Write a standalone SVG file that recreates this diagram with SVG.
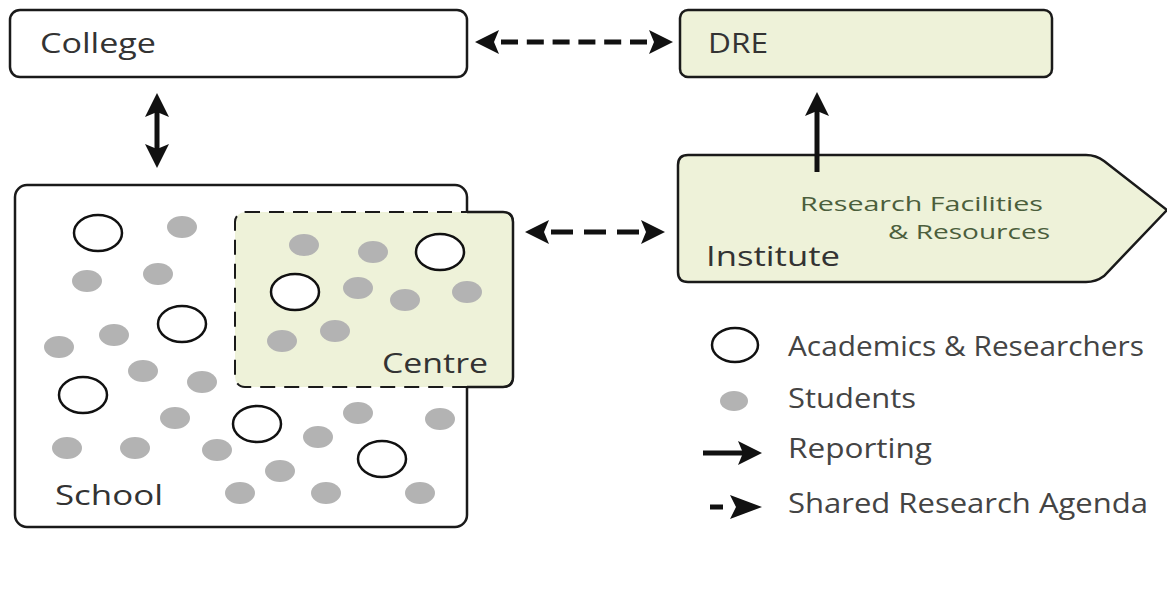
<svg xmlns="http://www.w3.org/2000/svg" width="1167" height="589" viewBox="0 0 1167 589">
<style>
.box{fill:#fff;stroke:#1a1a1a;stroke-width:2.5}
.green{fill:#eef2d9;stroke:#1a1a1a;stroke-width:2.5}
text{font-family:"Open Sans","Liberation Sans",sans-serif}
.lbl{fill:#333;font-size:27px}
.glbl{fill:#4b5e3c;font-size:20px}
.leg{fill:#444;font-size:28px}
.ac{fill:#fff;stroke:#111;stroke-width:2.5}
.st{fill:#b3b3b3}
.solid{stroke:#111;stroke-width:5;fill:none}
.dash{stroke:#111;stroke-width:5;fill:none}
</style>
<defs>
<marker id="ah" markerUnits="userSpaceOnUse" viewBox="-26 -13 28 26" refX="-18" refY="0" markerWidth="28" markerHeight="26" orient="auto-start-reverse">
<path d="M0,0 L-24,-12 L-19,0 L-24,12 Z" fill="#111"/>
</marker>
<marker id="ahd" markerUnits="userSpaceOnUse" viewBox="-26 -13 28 26" refX="-26" refY="0" markerWidth="28" markerHeight="26" orient="auto-start-reverse">
<path d="M0,0 L-24,-12 L-19,0 L-24,12 Z" fill="#111"/>
</marker>
</defs>
<rect width="1167" height="589" fill="#fff"/>
<g id="college"><rect class="box" x="10" y="10" width="457" height="67" rx="10"/><text class="lbl" x="40" y="53" textLength="116" lengthAdjust="spacingAndGlyphs">College</text></g>
<g id="dre"><rect class="green" x="680" y="10" width="372" height="67" rx="8"/><text class="lbl" x="708" y="53" textLength="60" lengthAdjust="spacingAndGlyphs">DRE</text></g>
<g id="institute"><path class="green" d="M688,155 L1086,155 Q1096,155 1104,161 L1167,210 L1104,276 Q1096,282 1086,282 L688,282 Q678,282 678,272 L678,165 Q678,155 688,155 Z"/>
<text class="glbl" x="800" y="211" textLength="243" lengthAdjust="spacingAndGlyphs">Research Facilities</text>
<text class="glbl" x="888" y="239" textLength="162" lengthAdjust="spacingAndGlyphs">&amp; Resources</text>
<text class="lbl" x="706" y="266" textLength="134" lengthAdjust="spacingAndGlyphs">Institute</text></g>
<g id="school"><rect class="box" x="15" y="185" width="452" height="342" rx="12"/><text class="lbl" x="55" y="505" textLength="108" lengthAdjust="spacingAndGlyphs">School</text>
<ellipse class="ac" cx="98" cy="233" rx="24" ry="18"/><ellipse class="ac" cx="182" cy="324" rx="24" ry="18"/><ellipse class="ac" cx="83" cy="395" rx="24" ry="18"/><ellipse class="ac" cx="257" cy="424" rx="24" ry="18"/><ellipse class="ac" cx="382" cy="459" rx="24" ry="18"/>
<ellipse class="st" cx="182" cy="227" rx="15" ry="11"/><ellipse class="st" cx="87" cy="281" rx="15" ry="11"/><ellipse class="st" cx="158" cy="274" rx="15" ry="11"/><ellipse class="st" cx="59" cy="347" rx="15" ry="11"/><ellipse class="st" cx="114" cy="335" rx="15" ry="11"/><ellipse class="st" cx="143" cy="371" rx="15" ry="11"/><ellipse class="st" cx="202" cy="382" rx="15" ry="11"/><ellipse class="st" cx="175" cy="418" rx="15" ry="11"/><ellipse class="st" cx="67" cy="448" rx="15" ry="11"/><ellipse class="st" cx="135" cy="448" rx="15" ry="11"/><ellipse class="st" cx="217" cy="450" rx="15" ry="11"/><ellipse class="st" cx="318" cy="437" rx="15" ry="11"/><ellipse class="st" cx="358" cy="413" rx="15" ry="11"/><ellipse class="st" cx="440" cy="419" rx="15" ry="11"/><ellipse class="st" cx="280" cy="471" rx="15" ry="11"/><ellipse class="st" cx="240" cy="493" rx="15" ry="11"/><ellipse class="st" cx="326" cy="493" rx="15" ry="11"/><ellipse class="st" cx="420" cy="493" rx="15" ry="11"/>
</g>
<g id="centre">
<rect x="235" y="212" width="278" height="175" rx="10" fill="#eef2d9" stroke="#1a1a1a" stroke-width="2" stroke-dasharray="15 9"/>
<path d="M467,212 L503,212 Q513,212 513,222 L513,377 Q513,387 503,387 L467,387" fill="none" stroke="#1a1a1a" stroke-width="2.5"/>
<text class="lbl" x="382" y="373" textLength="106" lengthAdjust="spacingAndGlyphs">Centre</text>
<ellipse class="ac" cx="440" cy="252" rx="24" ry="18"/><ellipse class="ac" cx="295" cy="292" rx="24" ry="18"/>
<ellipse class="st" cx="304" cy="245" rx="15" ry="11"/><ellipse class="st" cx="373" cy="252" rx="15" ry="11"/><ellipse class="st" cx="358" cy="288" rx="15" ry="11"/><ellipse class="st" cx="405" cy="300" rx="15" ry="11"/><ellipse class="st" cx="467" cy="292" rx="15" ry="11"/><ellipse class="st" cx="282" cy="341" rx="15" ry="11"/><ellipse class="st" cx="335" cy="331" rx="15" ry="11"/>
</g>
<g id="connectors">
<line class="dash" x1="501" y1="42" x2="647" y2="42" stroke-dasharray="17 8.8" marker-start="url(#ahd)" marker-end="url(#ahd)"/>
<line class="dash" x1="551" y1="232" x2="639" y2="232" stroke-dasharray="22 11" marker-start="url(#ahd)" marker-end="url(#ahd)"/>
<line class="solid" x1="157" y1="111" x2="157" y2="150" marker-start="url(#ah)" marker-end="url(#ah)"/>
<line class="solid" x1="817" y1="172" x2="817" y2="110" marker-end="url(#ah)"/>
</g>
<g id="legend">
<ellipse class="ac" cx="735" cy="345" rx="23" ry="17"/><text class="leg" x="788" y="356" textLength="356" lengthAdjust="spacingAndGlyphs">Academics &amp; Researchers</text>
<ellipse class="st" cx="734" cy="401" rx="14" ry="10"/><text class="leg" x="788" y="408" textLength="128" lengthAdjust="spacingAndGlyphs">Students</text>
<line class="solid" x1="703" y1="453" x2="744" y2="453" marker-end="url(#ah)"/><text class="leg" x="788" y="458" textLength="144" lengthAdjust="spacingAndGlyphs">Reporting</text>
<line class="solid" x1="710" y1="507" x2="723" y2="507"/><path d="M762,507 L730,495 L736,507 L730,519 Z" fill="#111"/><text class="leg" x="788" y="513" textLength="360" lengthAdjust="spacingAndGlyphs">Shared Research Agenda</text>
</g>
</svg>
